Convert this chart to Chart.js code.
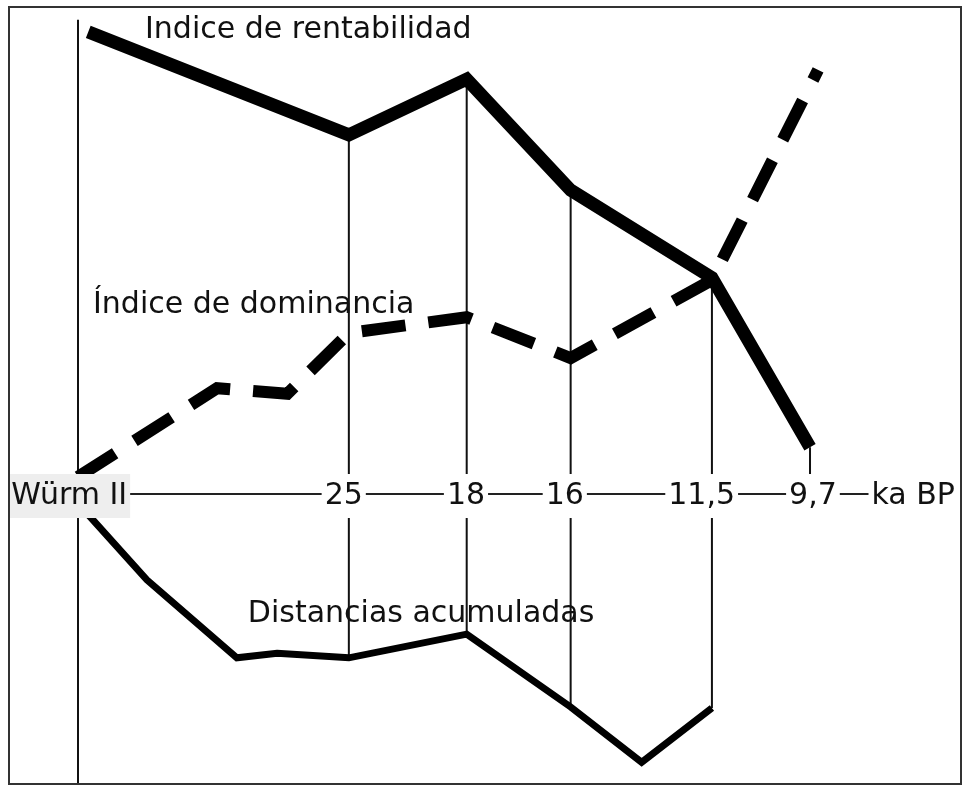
<!DOCTYPE html>
<html lang="es">
<head>
    <meta charset="UTF-8">
    <title>Índices</title>
    <style>
        body {
            margin: 0;
            padding: 0;
            background-color: #fff;
        }

        #frame {
            position: absolute;
            left: 8px;
            top: 6px;
            width: 950px;
            height: 775px;
            border: 2px solid #333;
        }

        canvas {
            display: block;
        }
    </style>
</head>
<body>
    <div id="frame">
        <canvas id="chart" width="950" height="775"></canvas>
    </div>

    <script src="https://cdn.jsdelivr.net/npm/chart.js"></script>
    <script>
        // time axis (ka BP), label positions along the schematic x axis
        const tickLabels = ['Würm II', '25', '18', '16', '11,5', '9,7', 'ka BP'];
        const tickPos = [-1.2, 36.3, 53.0, 66.5, 85.2, 100.4, 114.1];

        // Indice de rentabilidad (thick solid)
        const rentX = [1.4, 37.0, 53.1, 67.3, 86.6, 100];
        const rentY = [99.6, 77.4, 89.4, 65.5, 46.6, 10.1];

        // Índice de dominancia (thick dashed)
        const domX = [0, 19.0, 28.6, 37.0, 53.1, 67.3, 86.6, 101.1];
        const domY = [3.7, 22.8, 21.6, 34.7, 38.1, 29.3, 46.1, 91.4];

        // Distancias acumuladas (thin solid)
        const distX = [0, 9.4, 21.7, 27.2, 37.0, 53.1, 67.3, 77.0, 86.6];
        const distY = [-2.0, -18.5, -35.3, -34.3, -35.3, -30.2, -45.9, -57.8, -46.1];

        // vertical drop lines at each date
        const dropX = [37.0, 53.1, 67.3, 86.6, 100];
        const dropTop = [77.4, 89.4, 65.5, 46.6, 10.1];
        const dropBottom = [-35.3, -30.2, -45.9, -46.1, 0];

        // Würm II reference line
        const wurmX = 0;
        const wurmTop = 102.2;
        const wurmBottom = -65;

        // series names written on the chart
        const seriesNames = ['Indice de rentabilidad', 'Índice de dominancia', 'Distancias acumuladas'];
        const nameX = [9.15, 2.05, 23.2];
        const nameY = [98.3, 39.0, -27.6];

        const toPoints = (xs, ys) => xs.map((x, i) => ({ x: x, y: ys[i] }));

        const datasets = [
            {
                data: toPoints(rentX, rentY),
                borderColor: '#000',
                borderWidth: 13,
                borderJoinStyle: 'miter',
                borderCapStyle: 'butt'
            },
            {
                data: toPoints(domX, domY),
                borderColor: '#000',
                borderWidth: 12,
                borderDash: [44, 23],
                borderJoinStyle: 'miter',
                borderCapStyle: 'butt'
            },
            {
                data: toPoints(distX, distY),
                borderColor: '#000',
                borderWidth: 7,
                borderJoinStyle: 'miter',
                borderCapStyle: 'butt'
            },
            {
                data: [{ x: wurmX, y: wurmTop }, { x: wurmX, y: wurmBottom }],
                borderColor: '#111',
                borderWidth: 2
            }
        ];

        dropX.forEach((x, i) => {
            datasets.push({
                data: [{ x: x, y: dropTop[i] }, { x: x, y: dropBottom[i] }],
                borderColor: '#111',
                borderWidth: 2
            });
        });

        const seriesNamePlugin = {
            id: 'seriesNames',
            afterDatasetsDraw(chart) {
                const { ctx, scales: { x, y } } = chart;
                ctx.save();
                ctx.font = '30px "DejaVu Sans"';
                ctx.fillStyle = '#111';
                ctx.textBaseline = 'alphabetic';
                ctx.textAlign = 'left';
                seriesNames.forEach((name, i) => {
                    ctx.fillText(name, x.getPixelForValue(nameX[i]), y.getPixelForValue(nameY[i]));
                });
                ctx.restore();
            }
        };

        const ctx = document.getElementById('chart').getContext('2d');
        new Chart(ctx, {
            type: 'line',
            data: { datasets: datasets },
            options: {
                responsive: false,
                animation: false,
                devicePixelRatio: 1,
                layout: { padding: { left: 0, top: 0, bottom: 0, right: 6 } },
                elements: {
                    point: { radius: 0, hoverRadius: 0 },
                    line: { tension: 0 }
                },
                plugins: {
                    legend: { display: false },
                    tooltip: { enabled: false }
                },
                scales: {
                    x: {
                        type: 'linear',
                        min: -9.29,
                        max: 119.67,
                        position: { y: 0 },
                        grid: { display: false, drawTicks: false },
                        border: { display: true, color: '#222', width: 2 },
                        afterBuildTicks: scale => {
                            scale.ticks = tickPos.map(v => ({ value: v }));
                        },
                        ticks: {
                            z: 1,
                            autoSkip: false,
                            maxRotation: 0,
                            padding: -16,
                            color: '#111',
                            font: { family: 'DejaVu Sans', size: 30 },
                            showLabelBackdrop: true,
                            backdropPadding: { x: 3, y: 4 },
                            backdropColor: c => c.index === 0 ? '#eeeeee' : '#ffffff',
                            callback: (value, index) => tickLabels[index]
                        }
                    },
                    y: {
                        type: 'linear',
                        display: false,
                        min: -62.28,
                        max: 104.74
                    }
                }
            },
            plugins: [seriesNamePlugin]
        });
    </script>
</body>
</html>
